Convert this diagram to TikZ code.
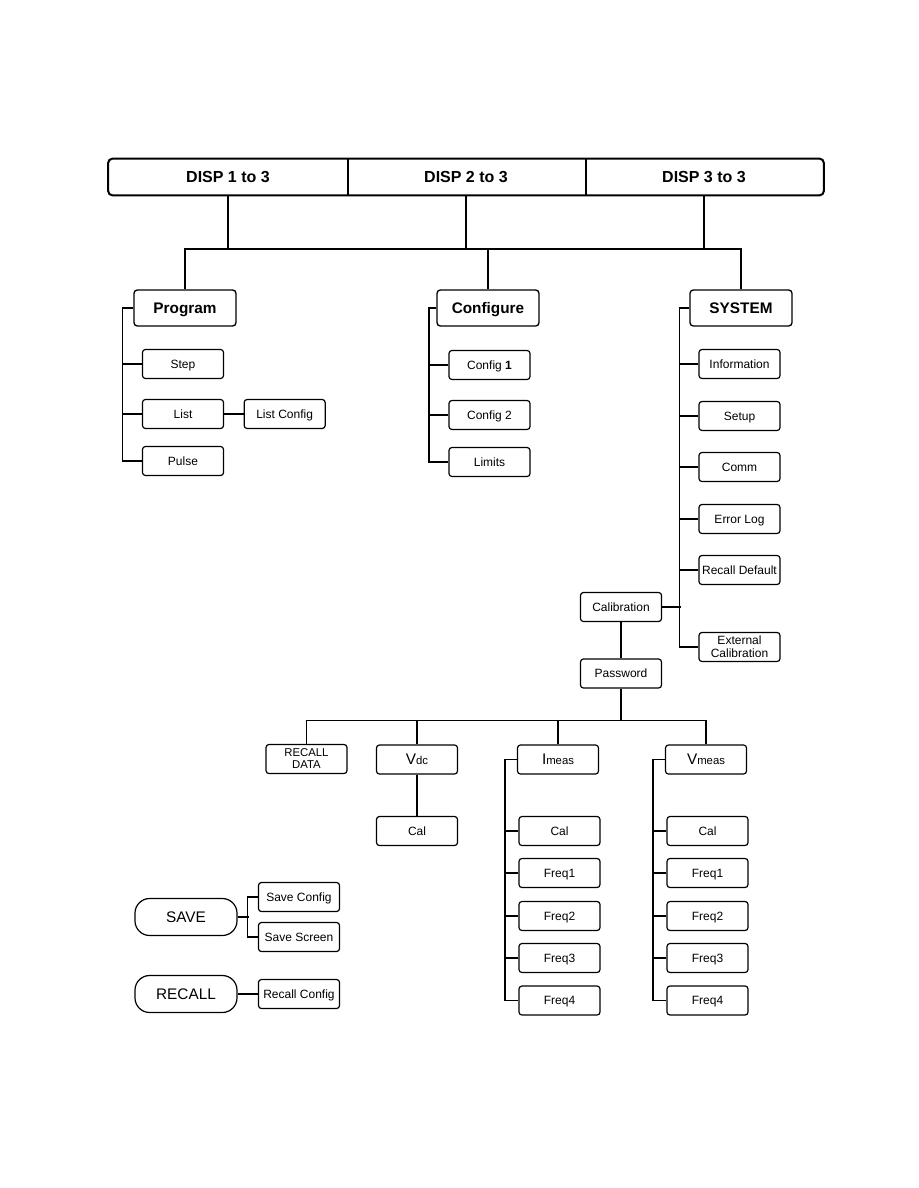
\documentclass[tikz,border=0pt]{standalone}
\usepackage{fontspec}
\setmainfont{Liberation Sans}
\usetikzlibrary{positioning}
\newcommand{\unitlabel}[2]{{\fontsize{11.5}{12}\selectfont #1}{\fontsize{8.5}{10}\selectfont #2}}
\tikzset{
  item/.style={draw,rounded corners=2.2pt,line width=0.9pt,minimum width=60.75pt,%
    minimum height=21.75pt,inner sep=1pt,align=center,text depth=0pt,%
    font=\fontsize{9}{10}\selectfont},
  head/.style={draw,rounded corners=2.5pt,line width=1pt,minimum width=76.5pt,%
    minimum height=27pt,text depth=0pt,font=\fontsize{11.5}{13}\selectfont\bfseries},
  pill/.style={draw,rounded corners=11pt,line width=0.9pt,minimum width=76.5pt,%
    minimum height=27.75pt,font=\fontsize{11.5}{13}\selectfont},
  disp/.style={minimum width=179.25pt,minimum height=27pt,inner sep=0pt,%
    font=\fontsize{12}{14}\selectfont\bfseries},
  trunk/.style={line width=2.2pt},
  link/.style={line width=1.2pt},
}

\begin{document}
\begin{tikzpicture}[x=0.75pt,y=-0.75pt]
\useasboundingbox (0,0) rectangle (918,1188);
% display bar
\node[disp] (d1) at (228,177) {DISP 1 to 3};
\node[disp] (d2) at (466,177) {DISP 2 to 3};
\node[disp] (d3) at (704,177) {DISP 3 to 3};
\draw[line width=1.5pt,rounded corners=3pt] (d1.north west) rectangle (d3.south east);
\draw[line width=1.1pt] (d1.north east) -- (d1.south east) (d2.north east) -- (d2.south east);
% menus
\node[head] (prog) at (185,308) {Program};
\node[head] (conf) at (488,308) {Configure};
\node[head] (sys)  at (741,308) {SYSTEM};
\coordinate (hub) at (466,249);
\foreach \d in {d1,d2,d3} \draw[trunk] (\d.south) -- (\d.south |- hub);
\draw[trunk] (prog.north) |- (hub) -| (sys.north);
\draw[trunk] (conf.north) -- (conf.north |- hub);
% program
\node[item] (step)  at (183,364) {Step};
\node[item] (list)  at (183,414) {List};
\node[item] (pulse) at (183,461) {Pulse};
\node[item,right=14.6pt of list] (lcfg) {List Config};
\draw[link] (prog.west) -- ++(-11,0) |- (pulse.west);
\foreach \n in {step,list} \draw[link] (\n.west) -- ++(-19.5,0);
\draw[link] (list) -- (lcfg);
% configure
\node[item] (cfg1) at (489.5,365) {Config \textbf{1}};
\node[item] (cfg2) at (489.5,415) {Config 2};
\node[item] (lim)  at (489.5,462) {Limits};
\draw[link] (conf.west) -- ++(-7.5,0) |- (lim.west);
\foreach \n in {cfg1,cfg2} \draw[link] (\n.west) -- ++(-19.5,0);
% system
\node[item] (info)  at (739.5,364) {Information};
\node[item] (setup) at (739.5,416) {Setup};
\node[item] (comm)  at (739.5,467) {Comm};
\node[item] (elog)  at (739.5,519) {Error Log};
\node[item] (rdef)  at (739.5,570) {Recall Default};
\node[item,text depth=] (ecal) at (739.5,647) {External\\Calibration};
\node[item] (cal)   at (621,607) {Calibration};
\node[item] (pwd)   at (621,673.5) {Password};
\draw[link] (sys.west) -- ++(-10,0) |- (ecal.west);
\foreach \n in {info,setup,comm,elog,rdef} \draw[link] (\n.west) -- ++(-19.5,0);
\draw[link] (cal.east) -- ++(18.5,0);
\draw[link] (cal) -- (pwd);
% calibration
\node[item,text depth=,font=\fontsize{8.5}{9}\selectfont] (rdat) at (306.5,759) {RECALL\\DATA};
\node[item] (vdc)   at (417,759.5) {\unitlabel{V}{dc}};
\node[item] (imeas) at (558,759.5) {\unitlabel{I}{meas}};
\node[item] (vmeas) at (706,759.5) {\unitlabel{V}{meas}};
\coordinate (bus) at (621,720.5);
\draw[link] (pwd.south) -- (bus);
\draw[link] (rdat.north) |- (bus) -| (vmeas.north);
\draw[link] (vdc.north) -- (vdc.north |- bus);
\draw[link] (imeas.north) -- (imeas.north |- bus);
\node[item] (vcal) at (417,831) {Cal};
\draw[link] (vdc) -- (vcal);
\foreach \m/\x in {imeas/559.5,vmeas/707.5} {
  \node[item] (\m0) at (\x,831) {Cal};
  \foreach \k/\y in {1/873,2/916,3/958,4/1000.5}
    \node[item] (\m\k) at (\x,\y) {Freq\k};
  \draw[link] (\m.west) -- ++(-12,0) |- (\m4.west);
  \foreach \k in {0,1,2,3} \draw[link] (\m\k.west) -- ++(-13.5,0);
}
% save / recall
\node[pill] (save)   at (186,917) {SAVE};
\node[pill] (recall) at (186,994) {RECALL};
\node[item] (scfg) at (299,897) {Save Config};
\node[item] (sscr) at (299,937) {Save Screen};
\node[item] (rcfg) at (299,994) {Recall Config};
\draw[link] (scfg.west) -- ++(-10.5,0) |- (sscr.west);
\draw[link] (save.east) -- ++(11,0);
\draw[link] (recall) -- (rcfg);
\end{tikzpicture}
\end{document}
